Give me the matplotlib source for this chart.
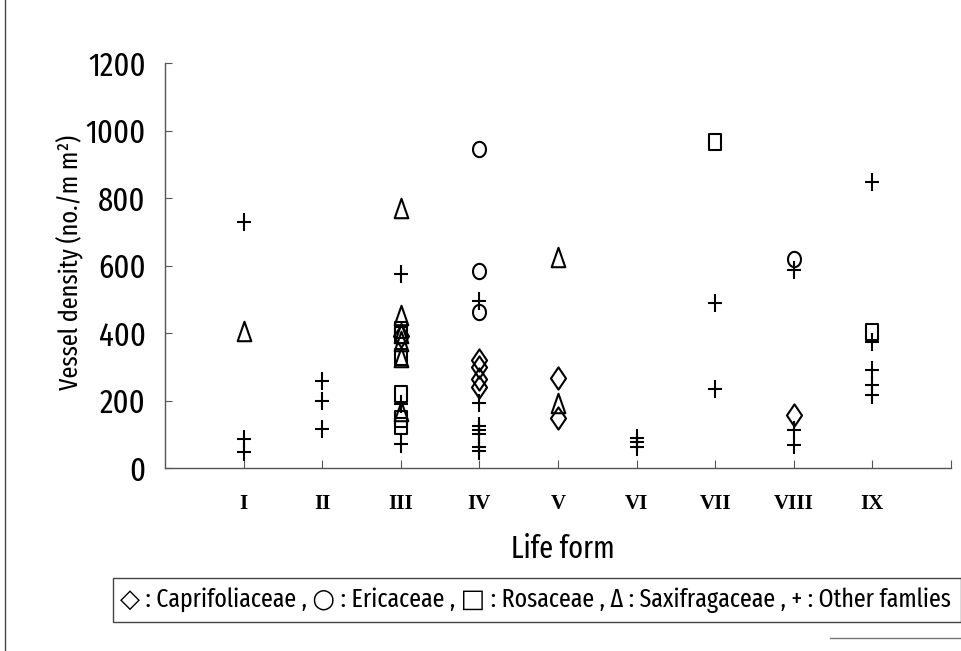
import numpy as np
import matplotlib
matplotlib.use("Agg")
from matplotlib import pyplot as plt
from matplotlib.path import Path
from matplotlib.patches import Rectangle
from matplotlib.lines import Line2D

# life forms on the x axis
cats = ["I", "II", "III", "IV", "V", "VI", "VII", "VIII", "IX"]

# vessel density (no./mm2) per family; x = life form number
capri_x = [3, 4, 4, 4, 4, 5, 5, 8]
capri_y = [390, 320, 300, 265, 240, 266, 148, 157]

eric_x = [4, 4, 4, 8]
eric_y = [945, 585, 462, 618]

rosa_x = [3, 3, 3, 3, 3, 3, 7, 9]
rosa_y = [410, 395, 330, 220, 145, 125, 965, 403]

saxi_x = [1, 3, 3, 3, 3, 3, 3, 5, 5]
saxi_y = [405, 770, 452, 400, 375, 330, 170, 625, 192]

other_x = [1, 1, 1, 2, 2, 2, 3, 3, 3, 4, 4, 4, 4, 4, 4, 4,
           6, 6, 6, 7, 7, 8, 8, 8, 9, 9, 9, 9, 9]
other_y = [730, 85, 47, 258, 200, 115, 575, 190, 70, 495, 193, 125, 112, 100, 62, 50,
           90, 76, 63, 489, 234, 587, 112, 68, 847, 373, 290, 246, 216]

legend_txt = ("◇ : Caprifoliaceae , ○ : Ericaceae , □ : Rosaceae , "
              "Δ : Saxifragaceae , + : Other famlies")

narrow = ["Fira Sans Extra Condensed", "DejaVu Sans"]
plt.rcParams["font.family"] = narrow

# marker shapes (taller than wide, like the original)
M, L = Path.MOVETO, Path.LINETO
plus_m = Path([(-0.8, 0), (0.8, 0), (0, -1), (0, 1)], [M, L, M, L])
tri_m = Path([(-0.7, -1), (0.7, -1), (0, 1), (-0.7, -1)], [M, L, L, Path.CLOSEPOLY])
sq_m = Path([(-0.75, -1), (0.75, -1), (0.75, 1), (-0.75, 1), (-0.75, -1)], [M, L, L, L, Path.CLOSEPOLY])
dia_m = Path([(0, -1), (0.68, 0), (0, 1), (-0.68, 0), (0, -1)], [M, L, L, L, Path.CLOSEPOLY])
t = np.linspace(0, 2 * np.pi, 40)
ell_m = Path(np.column_stack([0.85 * np.cos(t), np.sin(t)]))

fig = plt.figure(figsize=(9.61, 6.51), dpi=100)
ax = fig.add_axes([165 / 961, 1 - 468 / 651, 786 / 961, 405 / 651])

kw = dict(linestyle="none", color="black", markerfacecolor="none", markeredgewidth=1.5)
ax.plot(capri_x, capri_y, marker=dia_m, markersize=16, **kw)
ax.plot(eric_x, eric_y, marker=ell_m, markersize=11, **kw)
ax.plot(rosa_x, rosa_y, marker=sq_m, markersize=11.5, **kw)
ax.plot(saxi_x, saxi_y, marker=tri_m, markersize=14, **kw)
ax.plot(other_x, other_y, marker=plus_m, markersize=13, **kw)

ax.set_xlim(0, 10)
ax.set_ylim(0, 1200)
ax.set_xticks(range(1, 11))
ax.set_xticklabels(cats + [""], family=["Liberation Serif", "DejaVu Serif"],
                   fontweight="bold", fontsize=15)
ax.set_yticks(range(0, 1201, 200))
ax.tick_params(axis="y", direction="in", length=5, pad=14, labelsize=24, color="#555555")
ax.tick_params(axis="x", direction="in", length=6, pad=19, color="#555555")
for s in ["top", "right"]:
    ax.spines[s].set_visible(False)
for s in ["left", "bottom"]:
    ax.spines[s].set_color("#555555")
    ax.spines[s].set_linewidth(1.0)

fig.text(70 / 961, 1 - 262 / 651, "Vessel density (no./m m²)", rotation=90,
         ha="center", va="center", fontsize=19)
fig.text(563 / 961, 1 - 549 / 651, "Life form", ha="center", va="center", fontsize=22)

# legend box drawn as text
fig.patches.append(Rectangle((113 / 961, 1 - 622 / 651), (961 - 113) / 961, 44 / 651,
                             transform=fig.transFigure, fill=False, edgecolor="#444444",
                             linewidth=1.0))
leg = fig.text(120 / 961, 1 - 600 / 651, legend_txt, ha="left", va="center", fontsize=20)
# shrink the legend line so it spans about 835 px like the original
r = fig.canvas.get_renderer()
w = leg.get_window_extent(r).width
if w > 835:
    leg.set_fontsize(20 * 835 / w)

# frame pieces of the scanned page
fig.add_artist(Line2D([5 / 961, 5 / 961], [0, 1], transform=fig.transFigure,
                      color="#444444", linewidth=1.0))
fig.add_artist(Line2D([830 / 961, 1], [1 - 638 / 651, 1 - 638 / 651], transform=fig.transFigure,
                      color="#777777", linewidth=1.0))

fig.savefig("out.png", dpi=100)
